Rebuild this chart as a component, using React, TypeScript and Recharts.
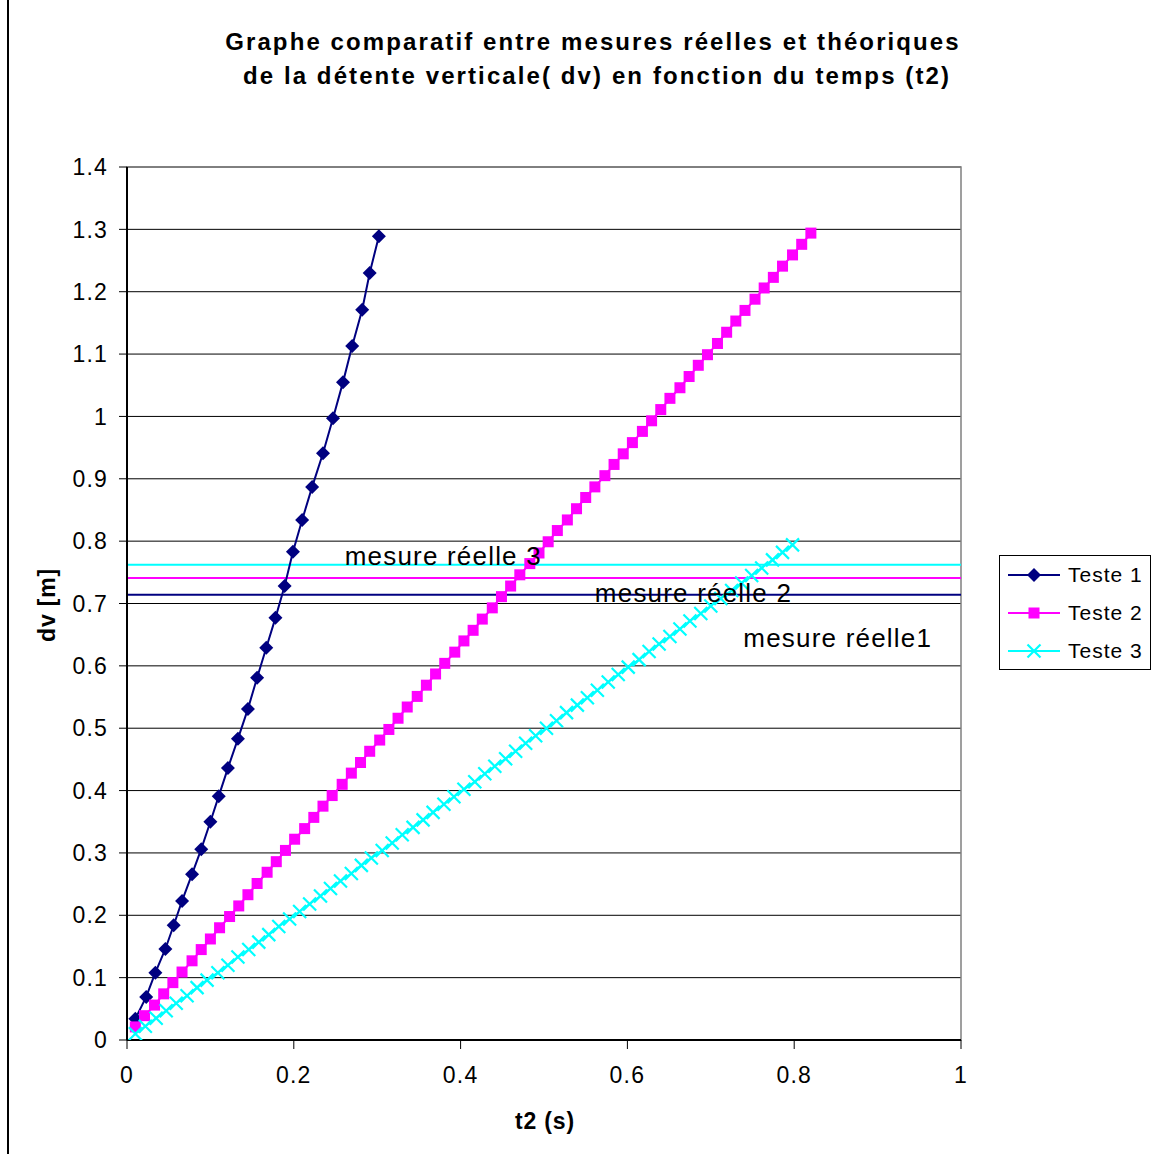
import React from 'react'
import {
  ScatterChart,
  Scatter,
  XAxis,
  YAxis,
  CartesianGrid,
  ReferenceLine,
  ReferenceDot,
  ReferenceArea,
  Legend,
} from 'recharts'

const FONT = '"Liberation Sans", Arial, sans-serif'

const NAVY = '#000080'
const MAGENTA = '#FF00FF'
const CYAN = '#00FFFF'

// Teste 1 (losanges)
const T1 = [
  0.010, 0.023, 0.034, 0.046, 0.056, 0.066, 0.078, 0.089, 0.100, 0.110, 0.121, 0.133, 0.145, 0.156,
  0.167, 0.178, 0.189, 0.199, 0.210, 0.222, 0.235, 0.247, 0.259, 0.270, 0.282, 0.291, 0.302,
]
const DV1 = [
  0.034, 0.069, 0.108, 0.146, 0.184, 0.223, 0.266, 0.306, 0.350, 0.391, 0.436, 0.483, 0.531, 0.581,
  0.629, 0.677, 0.728, 0.783, 0.834, 0.887, 0.941, 0.997, 1.055, 1.113, 1.171, 1.230, 1.289,
]

// Teste 2 (carrés)
const T2 = [
  0.010, 0.021, 0.033, 0.044, 0.055, 0.066, 0.078, 0.089, 0.100, 0.111, 0.123, 0.134, 0.145, 0.156,
  0.168, 0.179, 0.190, 0.201, 0.213, 0.224, 0.235, 0.246, 0.258, 0.269, 0.280, 0.291, 0.303, 0.314,
  0.325, 0.336, 0.348, 0.359, 0.370, 0.381, 0.393, 0.404, 0.415, 0.426, 0.438, 0.449, 0.460, 0.471,
  0.483, 0.494, 0.505, 0.516, 0.528, 0.539, 0.550, 0.561, 0.573, 0.584, 0.595, 0.606, 0.618, 0.629,
  0.640, 0.651, 0.663, 0.674, 0.685, 0.696, 0.708, 0.719, 0.730, 0.741, 0.753, 0.764, 0.775, 0.786,
  0.798, 0.809, 0.820,
]
const DV2 = [
  0.021, 0.039, 0.056, 0.074, 0.092, 0.109, 0.127, 0.145, 0.162, 0.180, 0.198, 0.215, 0.233, 0.251,
  0.269, 0.286, 0.304, 0.322, 0.339, 0.357, 0.375, 0.392, 0.410, 0.428, 0.445, 0.463, 0.481, 0.498,
  0.516, 0.534, 0.551, 0.569, 0.587, 0.604, 0.622, 0.640, 0.657, 0.675, 0.693, 0.711, 0.728, 0.746,
  0.764, 0.781, 0.799, 0.817, 0.834, 0.852, 0.870, 0.887, 0.905, 0.923, 0.940, 0.958, 0.976, 0.993,
  1.011, 1.029, 1.046, 1.064, 1.082, 1.099, 1.117, 1.135, 1.153, 1.170, 1.188, 1.206, 1.223, 1.241,
  1.259, 1.276, 1.294,
]

// Teste 3 (croix)
const T3 = [
  0.010, 0.022, 0.035, 0.047, 0.059, 0.072, 0.084, 0.096, 0.109, 0.121, 0.133, 0.146, 0.158, 0.170,
  0.182, 0.195, 0.207, 0.219, 0.232, 0.244, 0.256, 0.269, 0.281, 0.293, 0.306, 0.318, 0.330, 0.343,
  0.355, 0.367, 0.380, 0.392, 0.404, 0.417, 0.429, 0.441, 0.454, 0.466, 0.478, 0.490, 0.503, 0.515,
  0.527, 0.540, 0.552, 0.564, 0.577, 0.589, 0.601, 0.614, 0.626, 0.638, 0.651, 0.663, 0.675, 0.688,
  0.700, 0.712, 0.725, 0.737, 0.749, 0.761, 0.774, 0.786, 0.798,
]
const DV3 = [
  0.010, 0.022, 0.035, 0.047, 0.059, 0.071, 0.084, 0.096, 0.108, 0.120, 0.133, 0.145, 0.157, 0.169,
  0.182, 0.194, 0.206, 0.218, 0.231, 0.243, 0.255, 0.267, 0.280, 0.292, 0.304, 0.316, 0.329, 0.341,
  0.353, 0.365, 0.378, 0.390, 0.402, 0.414, 0.427, 0.439, 0.451, 0.463, 0.476, 0.488, 0.500, 0.512,
  0.525, 0.537, 0.549, 0.561, 0.574, 0.586, 0.598, 0.610, 0.623, 0.635, 0.647, 0.659, 0.672, 0.684,
  0.696, 0.708, 0.721, 0.733, 0.745, 0.757, 0.770, 0.782, 0.794,
]

// mesures réelles (lignes horizontales)
const MESURE_DV = [0.714, 0.741, 0.762]
const MESURE_COLORS = [NAVY, MAGENTA, CYAN]

// étiquettes libres dans le graphe
const NOTE_TEXT = ['mesure réelle 3', 'mesure réelle 2', 'mesure réelle1']
const NOTE_T = [0.261, 0.561, 0.739]
const NOTE_DV = [0.776, 0.717, 0.645]

const X_TICKS = [0, 0.2, 0.4, 0.6, 0.8, 1]
const Y_TICKS = [0, 0.1, 0.2, 0.3, 0.4, 0.5, 0.6, 0.7, 0.8, 0.9, 1, 1.1, 1.2, 1.3, 1.4]

const SERIES_NAMES = ['Teste 1', 'Teste 2', 'Teste 3']

const toPoints = (t: number[], dv: number[]) => t.map((x, i) => ({ t: x, dv: dv[i] }))
const teste1 = toPoints(T1, DV1)
const teste2 = toPoints(T2, DV2)
const teste3 = toPoints(T3, DV3)

const Diamond = (p: any) => (
  <polygon
    points={`${p.cx},${p.cy - 7} ${p.cx + 7},${p.cy} ${p.cx},${p.cy + 7} ${p.cx - 7},${p.cy}`}
    fill={NAVY}
  />
)
const Square = (p: any) => <rect x={p.cx - 5.5} y={p.cy - 5.5} width={11} height={11} fill={MAGENTA} />
const Cross = (p: any) => (
  <path
    d={`M${p.cx - 6.5},${p.cy - 6.5}L${p.cx + 6.5},${p.cy + 6.5}M${p.cx - 6.5},${p.cy + 6.5}L${p.cx + 6.5},${p.cy - 6.5}`}
    stroke={CYAN}
    strokeWidth={2.2}
  />
)

const MARKERS = [Diamond, Square, Cross]
const COLORS = [NAVY, MAGENTA, CYAN]

function LegendBox() {
  return (
    <div
      style={{
        width: 150,
        height: 113,
        border: '1px solid #000',
        background: '#fff',
        fontFamily: FONT,
        fontSize: 21,
        letterSpacing: 1,
        color: '#000',
        boxSizing: 'content-box',
      }}
    >
      {SERIES_NAMES.map((name, i) => {
        const M = MARKERS[i]
        return (
          <div key={name} style={{ height: 38, display: 'flex', alignItems: 'center' }}>
            <svg width={64} height={20} style={{ marginLeft: 4 }}>
              <line x1={4} y1={10} x2={56} y2={10} stroke={COLORS[i]} strokeWidth={2} />
              <M cx={30} cy={10} />
            </svg>
            <span>{name}</span>
          </div>
        )
      })}
    </div>
  )
}

const TICK_STYLE = { fill: '#000', fontSize: 23, fontFamily: FONT, letterSpacing: 1.2 }

export default function App() {
  return (
    <div style={{ position: 'absolute', left: 0, top: 0, width: 1154, height: 1154, background: '#fff' }}>
      <div style={{ position: 'absolute', left: 7, top: 0, width: 2, height: 1154, background: '#000' }} />
      <ScatterChart
        width={1154}
        height={1154}
        margin={{ top: 167, right: 193, bottom: 0, left: 0 }}
        style={{ fontFamily: FONT }}
      >
        <CartesianGrid vertical={false} stroke="#000" strokeWidth={1} />
        <ReferenceArea x1={0} x2={1} y1={0} y2={1.4} fill="none" stroke="#808080" strokeWidth={1.5} />
        <XAxis
          type="number"
          dataKey="t"
          domain={[0, 1]}
          ticks={X_TICKS}
          height={114}
          tickSize={9}
          tickMargin={18}
          stroke="#000"
          tickLine={{ stroke: '#000' }}
          axisLine={{ stroke: '#000', strokeWidth: 2 }}
          tick={TICK_STYLE}
          allowDataOverflow
        />
        <YAxis
          type="number"
          dataKey="dv"
          domain={[0, 1.4]}
          ticks={Y_TICKS}
          width={127}
          tickSize={8}
          tickMargin={11}
          stroke="#000"
          tickLine={{ stroke: '#000' }}
          axisLine={{ stroke: '#000', strokeWidth: 2 }}
          tick={TICK_STYLE}
          allowDataOverflow
        />
        {MESURE_DV.map((v, i) => (
          <ReferenceLine key={v} y={v} stroke={MESURE_COLORS[i]} strokeWidth={2} />
        ))}
        <Scatter
          name={SERIES_NAMES[0]}
          data={teste1}
          line={{ stroke: NAVY, strokeWidth: 2 }}
          shape={Diamond}
          isAnimationActive={false}
        />
        <Scatter
          name={SERIES_NAMES[1]}
          data={teste2}
          line={{ stroke: MAGENTA, strokeWidth: 2 }}
          shape={Square}
          isAnimationActive={false}
        />
        <Scatter
          name={SERIES_NAMES[2]}
          data={teste3}
          line={{ stroke: CYAN, strokeWidth: 2 }}
          shape={Cross}
          isAnimationActive={false}
        />
        {NOTE_TEXT.map((txt, i) => (
          <ReferenceDot
            key={txt}
            x={NOTE_T[i]}
            y={NOTE_DV[i]}
            r={0}
            fill="none"
            stroke="none"
            label={{
              value: txt,
              position: 'right',
              offset: 0,
              fill: '#000',
              fontSize: 26,
              letterSpacing: 1.2,
              fontFamily: FONT,
            }}
          />
        ))}
        <Legend
          layout="horizontal"
          align="center"
          verticalAlign="middle"
          content={() => <LegendBox />}
          wrapperStyle={{ left: 999, top: 555, width: 152, height: 115 }}
        />
        <text
          x={593}
          y={50}
          textAnchor="middle"
          fontFamily={FONT}
          fontWeight="bold"
          fontSize={24}
          letterSpacing={2.1}
          fill="#000"
        >
          Graphe comparatif entre mesures réelles et théoriques
        </text>
        <text
          x={597}
          y={84}
          textAnchor="middle"
          fontFamily={FONT}
          fontWeight="bold"
          fontSize={24}
          letterSpacing={2.1}
          fill="#000"
        >
          de la détente verticale( dv) en fonction du temps (t2)
        </text>
        <text
          x={545}
          y={1129}
          textAnchor="middle"
          fontFamily={FONT}
          fontWeight="bold"
          fontSize={23}
          letterSpacing={0.8}
          fill="#000"
        >
          t2 (s)
        </text>
        <text
          x={55}
          y={605}
          textAnchor="middle"
          transform="rotate(-90 55 605)"
          fontFamily={FONT}
          fontWeight="bold"
          fontSize={23}
          letterSpacing={0.8}
          fill="#000"
        >
          dv [m]
        </text>
      </ScatterChart>
    </div>
  )
}
